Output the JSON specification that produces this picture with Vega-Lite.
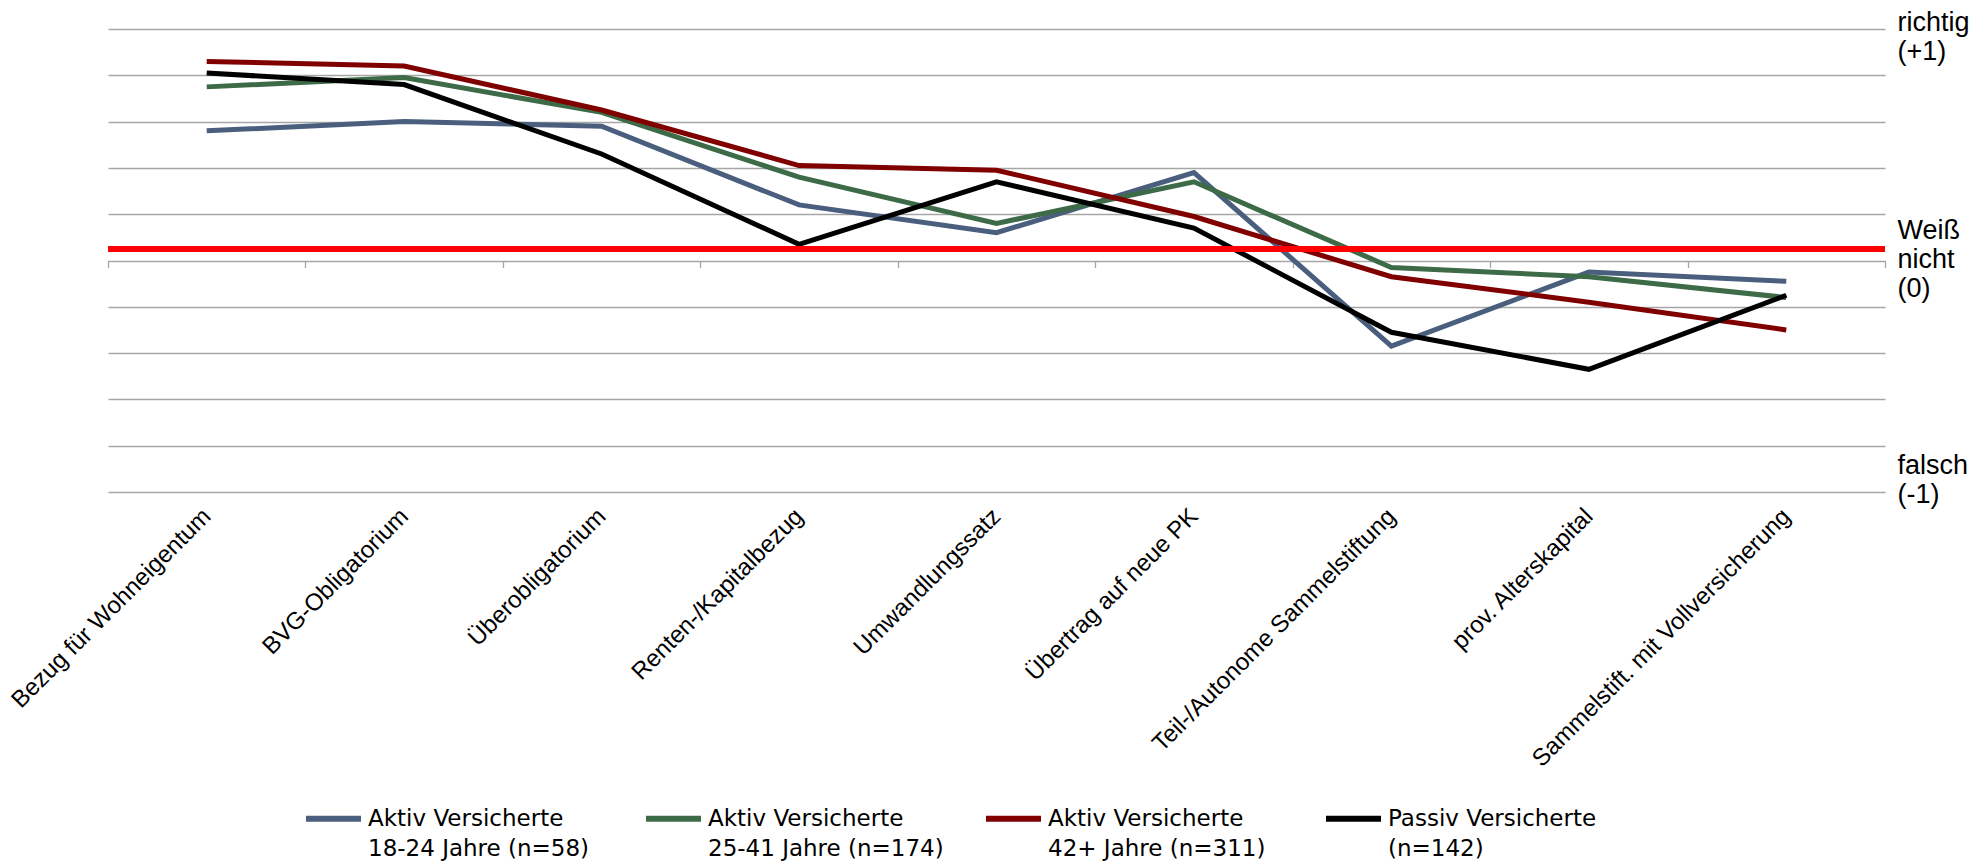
{
  "$schema": "https://vega.github.io/schema/vega-lite/v6.json",
  "width": 1777,
  "height": 463,
  "autosize": {"type": "none"},
  "padding": {"left": 108, "top": 29, "right": 102, "bottom": 370},
  "background": "white",
  "config": {"view": {"stroke": null}, "font": "Liberation Sans"},
  "data": {
    "values": [
      {"Kategorie": "Bezug für Wohneigentum", "Gruppe": "Aktiv Versicherte|18-24 Jahre (n=58)", "Wert": 0.56},
      {"Kategorie": "BVG-Obligatorium", "Gruppe": "Aktiv Versicherte|18-24 Jahre (n=58)", "Wert": 0.60},
      {"Kategorie": "Überobligatorium", "Gruppe": "Aktiv Versicherte|18-24 Jahre (n=58)", "Wert": 0.58},
      {"Kategorie": "Renten-/Kapitalbezug", "Gruppe": "Aktiv Versicherte|18-24 Jahre (n=58)", "Wert": 0.24},
      {"Kategorie": "Umwandlungssatz", "Gruppe": "Aktiv Versicherte|18-24 Jahre (n=58)", "Wert": 0.12},
      {"Kategorie": "Übertrag auf neue PK", "Gruppe": "Aktiv Versicherte|18-24 Jahre (n=58)", "Wert": 0.38},
      {"Kategorie": "Teil-/Autonome Sammelstiftung", "Gruppe": "Aktiv Versicherte|18-24 Jahre (n=58)", "Wert": -0.37},
      {"Kategorie": "prov. Alterskapital", "Gruppe": "Aktiv Versicherte|18-24 Jahre (n=58)", "Wert": -0.05},
      {"Kategorie": "Sammelstift. mit Vollversicherung", "Gruppe": "Aktiv Versicherte|18-24 Jahre (n=58)", "Wert": -0.09},
      {"Kategorie": "Bezug für Wohneigentum", "Gruppe": "Aktiv Versicherte|25-41 Jahre (n=174)", "Wert": 0.75},
      {"Kategorie": "BVG-Obligatorium", "Gruppe": "Aktiv Versicherte|25-41 Jahre (n=174)", "Wert": 0.79},
      {"Kategorie": "Überobligatorium", "Gruppe": "Aktiv Versicherte|25-41 Jahre (n=174)", "Wert": 0.64},
      {"Kategorie": "Renten-/Kapitalbezug", "Gruppe": "Aktiv Versicherte|25-41 Jahre (n=174)", "Wert": 0.36},
      {"Kategorie": "Umwandlungssatz", "Gruppe": "Aktiv Versicherte|25-41 Jahre (n=174)", "Wert": 0.16},
      {"Kategorie": "Übertrag auf neue PK", "Gruppe": "Aktiv Versicherte|25-41 Jahre (n=174)", "Wert": 0.34},
      {"Kategorie": "Teil-/Autonome Sammelstiftung", "Gruppe": "Aktiv Versicherte|25-41 Jahre (n=174)", "Wert": -0.03},
      {"Kategorie": "prov. Alterskapital", "Gruppe": "Aktiv Versicherte|25-41 Jahre (n=174)", "Wert": -0.07},
      {"Kategorie": "Sammelstift. mit Vollversicherung", "Gruppe": "Aktiv Versicherte|25-41 Jahre (n=174)", "Wert": -0.16},
      {"Kategorie": "Bezug für Wohneigentum", "Gruppe": "Aktiv Versicherte|42+ Jahre (n=311)", "Wert": 0.86},
      {"Kategorie": "BVG-Obligatorium", "Gruppe": "Aktiv Versicherte|42+ Jahre (n=311)", "Wert": 0.84},
      {"Kategorie": "Überobligatorium", "Gruppe": "Aktiv Versicherte|42+ Jahre (n=311)", "Wert": 0.65},
      {"Kategorie": "Renten-/Kapitalbezug", "Gruppe": "Aktiv Versicherte|42+ Jahre (n=311)", "Wert": 0.41},
      {"Kategorie": "Umwandlungssatz", "Gruppe": "Aktiv Versicherte|42+ Jahre (n=311)", "Wert": 0.39},
      {"Kategorie": "Übertrag auf neue PK", "Gruppe": "Aktiv Versicherte|42+ Jahre (n=311)", "Wert": 0.19},
      {"Kategorie": "Teil-/Autonome Sammelstiftung", "Gruppe": "Aktiv Versicherte|42+ Jahre (n=311)", "Wert": -0.07},
      {"Kategorie": "prov. Alterskapital", "Gruppe": "Aktiv Versicherte|42+ Jahre (n=311)", "Wert": -0.18},
      {"Kategorie": "Sammelstift. mit Vollversicherung", "Gruppe": "Aktiv Versicherte|42+ Jahre (n=311)", "Wert": -0.30},
      {"Kategorie": "Bezug für Wohneigentum", "Gruppe": "Passiv Versicherte|(n=142)", "Wert": 0.81},
      {"Kategorie": "BVG-Obligatorium", "Gruppe": "Passiv Versicherte|(n=142)", "Wert": 0.76},
      {"Kategorie": "Überobligatorium", "Gruppe": "Passiv Versicherte|(n=142)", "Wert": 0.46},
      {"Kategorie": "Renten-/Kapitalbezug", "Gruppe": "Passiv Versicherte|(n=142)", "Wert": 0.07},
      {"Kategorie": "Umwandlungssatz", "Gruppe": "Passiv Versicherte|(n=142)", "Wert": 0.34},
      {"Kategorie": "Übertrag auf neue PK", "Gruppe": "Passiv Versicherte|(n=142)", "Wert": 0.14},
      {"Kategorie": "Teil-/Autonome Sammelstiftung", "Gruppe": "Passiv Versicherte|(n=142)", "Wert": -0.31},
      {"Kategorie": "prov. Alterskapital", "Gruppe": "Passiv Versicherte|(n=142)", "Wert": -0.47},
      {"Kategorie": "Sammelstift. mit Vollversicherung", "Gruppe": "Passiv Versicherte|(n=142)", "Wert": -0.15}
    ]
  },
  "layer": [
    {
      "mark": {"type": "line", "strokeWidth": 5, "strokeJoin": "miter"},
      "encoding": {
        "x": {
          "field": "Kategorie", "type": "nominal", "sort": null, "bandPosition": 0.5,
          "scale": {"type": "band", "paddingInner": 0, "paddingOuter": 0},
          "axis": {
            "orient": "bottom", "offset": -231.5, "title": null, "domain": false, "grid": false,
            "ticks": true, "tickBand": "extent", "tickSize": 7, "tickColor": "#A6A6A6", "tickWidth": 1.3,
            "labelAngle": -45, "labelAlign": "right", "labelBaseline": "middle", "labelPadding": 245,
            "labelFontSize": 24, "labelColor": "#000000", "labelLimit": 600, "labelOverlap": false
          }
        },
        "y": {
          "field": "Wert", "type": "quantitative",
          "scale": {"domain": [-1, 1], "nice": false, "zero": false},
          "axis": {
            "orient": "right", "title": null, "domain": false, "ticks": false,
            "values": [-1, -0.8, -0.6, -0.4, -0.2, 0, 0.2, 0.4, 0.6, 0.8, 1],
            "grid": true, "gridColor": "#A6A6A6", "gridWidth": 1.3,
            "labelExpr": "datum.value == 1 ? ['richtig','(+1)'] : datum.value == 0 ? ['Weiß','nicht','(0)'] : datum.value == -1 ? ['falsch','(-1)'] : ''",
            "labelFontSize": 27, "labelColor": "#000000", "labelAlign": "left", "labelBaseline": "middle",
            "labelPadding": 12, "labelLineHeight": 29, "labelOverlap": false, "labelBound": false,
            "labelOffset": {"expr": "datum.value == 1 ? -7 : datum.value == -1 ? -27 : datum.value == 0 ? -30 : 0"}
          }
        },
        "color": {
          "field": "Gruppe", "type": "nominal", "sort": null,
          "scale": {
            "domain": ["Aktiv Versicherte|18-24 Jahre (n=58)", "Aktiv Versicherte|25-41 Jahre (n=174)", "Aktiv Versicherte|42+ Jahre (n=311)", "Passiv Versicherte|(n=142)"],
            "range": ["#4A5E7D", "#3D6B47", "#800000", "#000000"]
          },
          "legend": {
            "orient": "none", "legendX": 195, "legendY": 759, "direction": "horizontal", "columns": 4,
            "title": null, "symbolType": "stroke", "symbolSize": 3025, "symbolStrokeWidth": 6,
            "labelFont": "DejaVu Sans", "labelFontSize": 23, "labelOffset": 4, "labelLimit": 600,
            "columnPadding": 30, "gridAlign": "all",
            "labelExpr": "split(datum.label, '|')", "labelColor": "#000000", "labelBaseline": "middle",
            "encode": {"labels": {"update": {"lineHeight": {"value": 30}}}}
          }
        }
      }
    },
    {
      "mark": {"type": "rule", "color": "#FF0000", "strokeWidth": 5.5},
      "encoding": {"y": {"datum": 0.05}}
    }
  ]
}
